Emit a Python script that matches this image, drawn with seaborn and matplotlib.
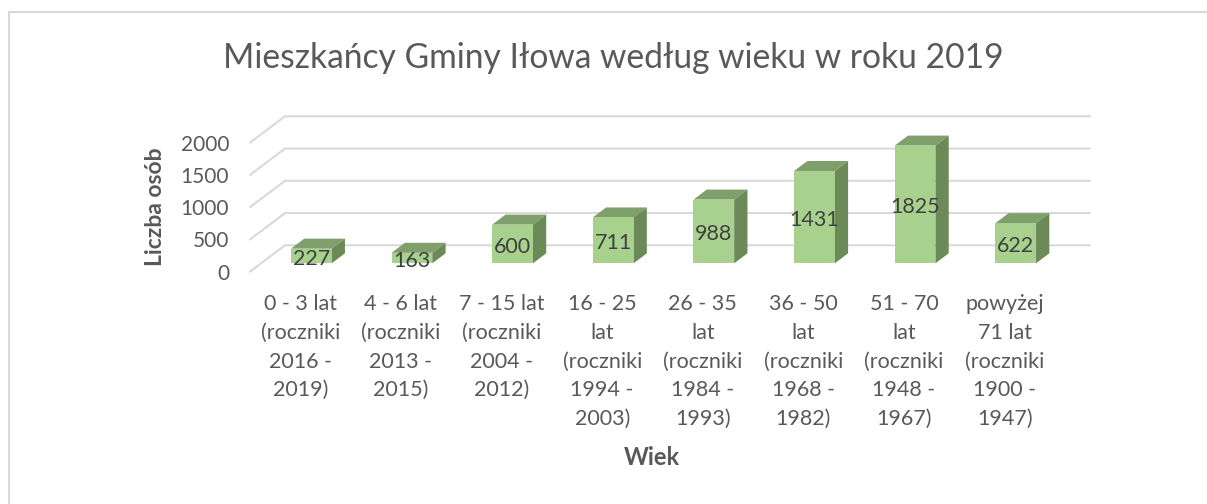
import matplotlib
matplotlib.use("Agg")
import matplotlib.pyplot as plt
import pandas as pd
import seaborn as sns

# Data
categories = [
    "0 - 3 lat\n(roczniki\n2016 -\n2019)",
    "4 - 6 lat\n(roczniki\n2013 -\n2015)",
    "7 - 15 lat\n(roczniki\n2004 -\n2012)",
    "16 - 25\nlat\n(roczniki\n1994 -\n2003)",
    "26 - 35\nlat\n(roczniki\n1984 -\n1993)",
    "36 - 50\nlat\n(roczniki\n1968 -\n1982)",
    "51 - 70\nlat\n(roczniki\n1948 -\n1967)",
    "powyżej\n71 lat\n(roczniki\n1900 -\n1947)",
]
people = [227, 163, 600, 711, 988, 1431, 1825, 622]
y_ticks = [0, 500, 1000, 1500, 2000]

df = pd.DataFrame({"Wiek": categories, "Liczba": people})

sns.set_theme(style="white")
plt.rcParams["font.family"] = ["Lato", "DejaVu Sans"]

W, H = 1207, 504
fig = plt.figure(figsize=(W / 100, H / 100), dpi=100)
# axes = front plane of the fake 3D box
ax = fig.add_axes([250 / W, 1 - 271.7 / H, 805 / W, 129 / H])

# pixels to data units
px_x = 8 / 805
px_y = 2000 / 129
wall_dx, wall_dy = 35 * px_x, 26.4 * px_y
bar_shift_x, bar_shift_y = 11 * px_x, 8.4 * px_y
depth_x, depth_y = 13.3 * px_x, 10 * px_y

front = "#A9D18E"
top = "#7F9F6B"
side = "#6B8A58"
grid = "#D9D9D9"
text_col = "#595959"

sns.barplot(data=df, x="Wiek", y="Liczba", color=front, saturation=1,
            width=40.7 * px_x, linewidth=0, ax=ax, zorder=3)

ax.set_xlim(-0.5, 7.5)
ax.set_ylim(0, 2000)

# gridlines: left wall + back wall
for t in y_ticks:
    ax.plot([-0.5, -0.5 + wall_dx, 7.5 + wall_dx], [t, t + wall_dy, t + wall_dy],
            color=grid, lw=1.5, clip_on=False, zorder=1)

# move the bars to the middle of the floor and add top and side faces
for p, v in zip(ax.patches, people):
    p.set_x(p.get_x() + bar_shift_x)
    p.set_y(bar_shift_y)
    p.set_clip_on(False)
    x0, x1 = p.get_x(), p.get_x() + p.get_width()
    y0, y1 = bar_shift_y, bar_shift_y + v
    ax.fill([x0, x1, x1 + depth_x, x0 + depth_x], [y1, y1, y1 + depth_y, y1 + depth_y],
            color=top, lw=0, clip_on=False, zorder=2)
    ax.fill([x1, x1 + depth_x, x1 + depth_x, x1], [y0, y0 + depth_y, y1 + depth_y, y1],
            color=side, lw=0, clip_on=False, zorder=2)
    ax.text((x0 + x1) / 2, y0 + v / 2 - 45, str(v), ha="center", va="center",
            fontsize=15.5, color="#404040", zorder=5, clip_on=False)

ax.set_yticks(y_ticks)
ax.set_xticks(range(len(categories)))
ax.set_xticklabels(categories, linespacing=1.55)
ax.tick_params(axis="both", length=0, labelcolor=text_col)
ax.tick_params(axis="x", labelsize=15.5, pad=16)
ax.tick_params(axis="y", labelsize=15, pad=15)

sns.despine(ax=ax, left=True, bottom=True)

ax.set_xlabel("Wiek", fontsize=17, fontweight="bold", color=text_col)
ax.xaxis.set_label_coords((652 - 250) / 805, -(446 - 271.7) / 129)
ax.set_ylabel("Liczba osób", fontsize=16.5, fontweight="bold", color=text_col)
ax.yaxis.set_label_coords((166 - 250) / 805, (271.7 - 207) / 129)

fig.text(613 / W, 1 - 58 / H, "Mieszkańcy Gminy Iłowa według wieku w roku 2019",
         ha="center", va="center", fontsize=24.2, color=text_col)

# chart border, top and left sides only
fig.add_artist(plt.Line2D([9 / W, 9 / W, 1207 / W], [0, 1 - 12 / H, 1 - 12 / H],
                          color=grid, lw=1.5))

fig.savefig("out.png", dpi=100)
